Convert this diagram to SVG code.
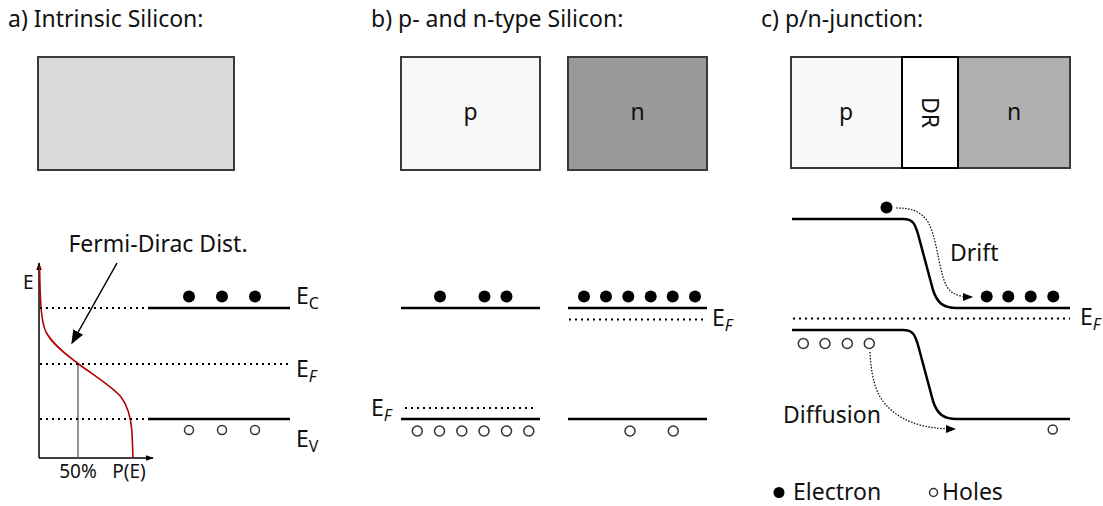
<svg xmlns="http://www.w3.org/2000/svg" width="1103" height="506" viewBox="0 0 1103 506">
<defs>
<style>
text{font-family:"Noto Sans","Open Sans","DejaVu Sans",sans-serif;fill:#111}
.t{font-size:23px}
.l{font-size:23px}
.m{font-size:19px}
.s{font-size:16px}
.box{stroke:#3a3a3a;stroke-width:2}
.band{fill:none;stroke:#000;stroke-width:2.5}
.dot{fill:none;stroke:#000;stroke-width:2;stroke-dasharray:2 4}
.fine{fill:none;stroke:#000;stroke-width:1.2;stroke-dasharray:1.5 1.5}
.e{fill:#000}
.h{fill:none;stroke:#333;stroke-width:1.5}
</style>
<marker id="ah" viewBox="0 0 10 10" refX="9" refY="5" markerWidth="10" markerHeight="10" markerUnits="userSpaceOnUse" orient="auto"><path d="M0,1 L10,5 L0,9 Z" fill="#000"/></marker>
<marker id="ax" viewBox="0 0 10 10" refX="9" refY="5" markerWidth="8" markerHeight="8" markerUnits="userSpaceOnUse" orient="auto"><path d="M0,1.5 L10,5 L0,8.5 Z" fill="#000"/></marker>
<marker id="ab" viewBox="0 0 10 10" refX="9" refY="5" markerWidth="14" markerHeight="14" markerUnits="userSpaceOnUse" orient="auto"><path d="M0,1 L10,5 L0,9 Z" fill="#000"/></marker>
</defs>
<rect width="1103" height="506" fill="#fff"/>

<g id="titles">
<text class="t" x="8" y="27">a) Intrinsic Silicon:</text>
<text class="t" x="371" y="27">b) p- and n-type Silicon:</text>
<text class="t" x="761" y="27">c) p/n-junction:</text>
</g>

<g id="box-intrinsic"><rect class="box" x="38" y="57" width="196" height="113" fill="#dadada"/></g>
<g id="box-p"><rect class="box" x="401" y="57" width="139" height="113" fill="#f7f7f7"/><text class="l" x="470.5" y="120" text-anchor="middle">p</text></g>
<g id="box-n"><rect class="box" x="568" y="57" width="139" height="113" fill="#999"/><text class="l" x="637.5" y="120" text-anchor="middle">n</text></g>
<g id="junction">
<rect class="box" x="791" y="57" width="279" height="111" fill="#f9f9f9"/>
<rect x="958" y="57" width="112" height="111" fill="#b0b0b0" stroke="#3a3a3a" stroke-width="2"/>
<rect x="902" y="57" width="56" height="111" fill="#fff" stroke="#000" stroke-width="2"/>
<text class="l" x="846" y="120" text-anchor="middle">p</text>
<text class="l" x="1014" y="120" text-anchor="middle">n</text>
<g transform="translate(930 112.5) rotate(90)"><text class="l" x="0" y="8" text-anchor="middle">DR</text></g>
</g>

<g id="intrinsic-bands">
<line x1="39" y1="458" x2="39" y2="263" stroke="#000" stroke-width="1.5" marker-end="url(#ax)"/>
<line x1="39" y1="458" x2="153" y2="458" stroke="#000" stroke-width="1.5" marker-end="url(#ax)"/>
<line x1="78" y1="364" x2="78" y2="458" stroke="#555" stroke-width="1.3"/>
<path d="M39.6,266 C40,300 41,322 46,332 C52,343 62,352 80,365 C98,378 114,388 121,397 C128,406 131,418 132,432 L133,458" fill="none" stroke="#b40000" stroke-width="1.6"/>
<line class="dot" x1="40" y1="308" x2="148" y2="308"/>
<line class="dot" x1="40" y1="364" x2="290" y2="364"/>
<line class="dot" x1="40" y1="419" x2="148" y2="419"/>
<line class="band" x1="148" y1="308" x2="290" y2="308"/>
<line class="band" x1="148" y1="419" x2="290" y2="419"/>
<circle class="e" cx="189" cy="296.5" r="6"/><circle class="e" cx="222" cy="296.5" r="6"/><circle class="e" cx="255" cy="296.5" r="6"/>
<circle class="h" cx="189" cy="430" r="4.5"/><circle class="h" cx="222" cy="430" r="4.5"/><circle class="h" cx="255" cy="430" r="4.5"/>
<text class="m" x="23" y="289">E</text>
<text class="m" x="78" y="478" text-anchor="middle">50%</text>
<text class="m" x="129" y="478" text-anchor="middle">P(E)</text>
<text class="l" x="296" y="304">E<tspan class="s" dy="5">C</tspan></text>
<text class="l" x="296" y="377">E<tspan class="s" dy="5" font-style="italic">F</tspan></text>
<text class="l" x="296" y="447">E<tspan class="s" dy="5">V</tspan></text>
<text class="l" x="158" y="252" text-anchor="middle">Fermi-Dirac Dist.</text>
</g>

<g id="p-bands">
<line class="band" x1="401" y1="308" x2="540" y2="308"/>
<line class="band" x1="401" y1="419" x2="540" y2="419"/>
<line class="dot" x1="405" y1="408" x2="537" y2="408"/>
<circle class="e" cx="440" cy="296.5" r="6"/><circle class="e" cx="484.5" cy="296.5" r="6"/><circle class="e" cx="506.5" cy="296.5" r="6"/>
<circle class="h" cx="417.3" cy="431" r="5"/><circle class="h" cx="439.5" cy="431" r="5"/><circle class="h" cx="461.8" cy="431" r="5"/><circle class="h" cx="484" cy="431" r="5"/><circle class="h" cx="506.5" cy="431" r="5"/><circle class="h" cx="528.8" cy="431" r="5"/>
<text class="l" x="371" y="416">E<tspan class="s" dy="5" font-style="italic">F</tspan></text>
</g>

<g id="n-bands">
<line class="band" x1="568" y1="308" x2="707" y2="308"/>
<line class="band" x1="568" y1="419" x2="707" y2="419"/>
<line class="dot" x1="569" y1="319.5" x2="706" y2="319.5"/>
<circle class="e" cx="584" cy="296.5" r="6"/><circle class="e" cx="606" cy="296.5" r="6"/><circle class="e" cx="628.3" cy="296.5" r="6"/><circle class="e" cx="650.7" cy="296.5" r="6"/><circle class="e" cx="672.7" cy="296.5" r="6"/><circle class="e" cx="695" cy="296.5" r="6"/>
<circle class="h" cx="630" cy="431" r="5"/><circle class="h" cx="673.3" cy="431" r="5"/>
<text class="l" x="712" y="326">E<tspan class="s" dy="5" font-style="italic">F</tspan></text>
</g>

<g id="junction-bands">
<path class="band" d="M792,219 H903 C913,219 915,224 918,234 L933,290 C937,302 942,308 957,308 H1070"/>
<path class="band" d="M792,330 H903 C913,330 915,335 918,345 L933,401 C937,413 942,419 957,419 H1070"/>
<line class="dot" x1="793" y1="318.5" x2="1070" y2="318.5"/>
<circle class="e" cx="886.5" cy="207.5" r="6"/>
<circle class="e" cx="986.7" cy="296.5" r="6"/><circle class="e" cx="1008.3" cy="296.5" r="6"/><circle class="e" cx="1030.7" cy="296.5" r="6"/><circle class="e" cx="1053.3" cy="296.5" r="6"/>
<circle class="h" cx="803.3" cy="343.5" r="5"/><circle class="h" cx="825" cy="343.5" r="5"/><circle class="h" cx="847.3" cy="343.5" r="5"/><circle class="h" cx="869.3" cy="343.5" r="5"/>
<circle class="h" cx="1052.7" cy="429.5" r="4.5"/>
<text class="l" x="1080" y="325">E<tspan class="s" dy="5" font-style="italic">F</tspan></text>
<text class="l" x="950" y="261">Drift</text>
<text class="l" x="783" y="423">Diffusion</text>
</g>

<g id="connectors">
<line x1="117" y1="263" x2="72" y2="343" stroke="#000" stroke-width="1.5" marker-end="url(#ab)"/>
<path class="fine" d="M896,208 C910,208 920,210 928,222 C936,236 938,262 944,280 C948,292 955,297 972,297" marker-end="url(#ah)"/>
<path class="fine" d="M870,352 C871,372 874,392 886,405 C900,420 920,429 955,429" marker-end="url(#ah)"/>
</g>

<g id="legend">
<circle class="e" cx="779" cy="492.5" r="5.5"/>
<text class="l" x="793" y="500">Electron</text>
<circle class="h" cx="933.5" cy="492.5" r="4"/>
<text class="l" x="942" y="500">Holes</text>
</g>
</svg>
